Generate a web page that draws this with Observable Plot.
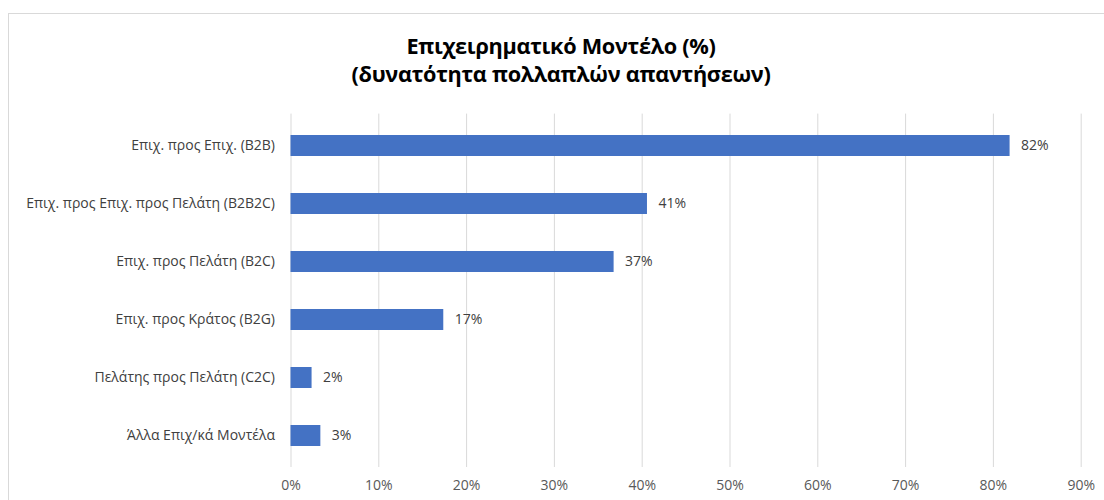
<!DOCTYPE html>
<html>
<head>
<meta charset="utf-8">
<script src="https://cdn.jsdelivr.net/npm/d3@7"></script>
<script src="https://cdn.jsdelivr.net/npm/@observablehq/plot@0.6"></script>
<style>
  html, body { margin: 0; padding: 0; background: #fff; overflow: hidden; }
  #page { position: relative; width: 1104px; height: 500px; overflow: hidden; font-family: "Open Sans", "Noto Sans", sans-serif; }
  #frame { position: absolute; left: 8px; top: 13px; width: 1120px; height: 520px; border: 1px solid #d9d9d9; box-sizing: border-box; }
  #title { position: absolute; left: 0; width: 1122px; top: 32px; text-align: center; font-weight: bold; font-size: 21.7px; line-height: 28px; color: #000; font-family: "Open Sans", sans-serif; letter-spacing: -0.3px; }
  #chart { position: absolute; left: 0; top: 100px; }
</style>
</head>
<body>
<div id="page">
  <div id="frame"></div>
  <div id="title">Επιχειρηματικό Μοντέλο (%)<br>(δυνατότητα πολλαπλών απαντήσεων)</div>
  <div id="chart"></div>
</div>
<script>
const categories = [
  "Επιχ. προς Επιχ. (B2B)",
  "Επιχ. προς Επιχ. προς Πελάτη (B2B2C)",
  "Επιχ. προς Πελάτη (B2C)",
  "Επιχ. προς Κράτος (B2G)",
  "Πελάτης προς Πελάτη (C2C)",
  "Άλλα Επιχ/κά Μοντέλα"
];
const values = [81.9, 40.6, 36.8, 17.4, 2.4, 3.4];
const valueLabels = ["82%", "41%", "37%", "17%", "2%", "3%"];
const xTicks = [0, 10, 20, 30, 40, 50, 60, 70, 80, 90];

const data = categories.map((c, i) => ({category: c, value: values[i], label: valueLabels[i]}));

const chart = Plot.plot({
  width: 1104,
  height: 400,
  marginLeft: 290.5,
  marginRight: 23.3,
  marginTop: 13.6,
  marginBottom: 33,
  style: {fontFamily: "'Open Sans', sans-serif", fontSize: "14px", color: "#404040", background: "transparent"},
  x: {domain: [0, 90], ticks: xTicks, tickFormat: d => d + "%", tickSize: 0, tickPadding: 13, label: null},
  y: {domain: categories, paddingInner: 0.643, paddingOuter: 0.32, tickSize: 0, tickPadding: 16, label: null},
  marks: [
    Plot.gridX(xTicks, {stroke: "#d9d9d9", strokeOpacity: 1, strokeWidth: 1}),
    Plot.barX(data, {x: "value", y: "category", fill: "#4472C4"}),
    Plot.text(data, {x: "value", y: "category", text: "label", dx: 11, textAnchor: "start", fill: "#404040", fontSize: 14})
  ]
});
chart.querySelectorAll("[aria-label='x-axis tick label'] text").forEach(t => t.setAttribute("fill", "#595959"));
document.getElementById("chart").appendChild(chart);
</script>
</body>
</html>
